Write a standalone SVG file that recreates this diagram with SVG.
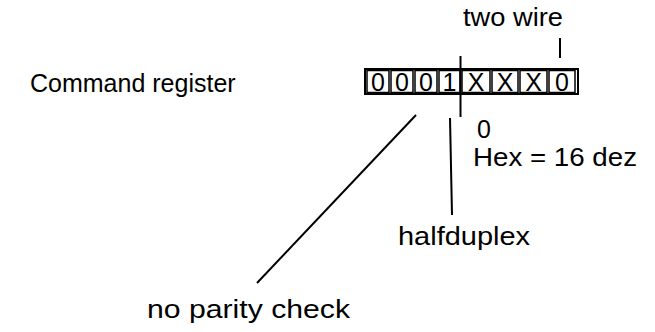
<svg xmlns="http://www.w3.org/2000/svg" width="655" height="332" viewBox="0 0 655 332">
<style>
text{font-family:"Liberation Sans",Arial,sans-serif;font-size:25px;fill:#000}
.reg{font-size:27px}
.ln{stroke:#000;stroke-width:2;fill:none}
.frame{stroke:#000;stroke-width:2;fill:#fff}
.cell{stroke:#000;stroke-width:1.5;fill:none}
</style>
<rect width="655" height="332" fill="#fff"/>
<g id="label-command"><text x="30" y="92" font-size="22">Command register</text></g>
<g id="register">
<rect class="frame" x="365" y="69" width="213" height="25"/>
<rect class="cell" x="367" y="70.5" width="22" height="22"/>
<rect class="cell" x="391" y="70.5" width="22" height="22"/>
<rect class="cell" x="415" y="70.5" width="22" height="22"/>
<rect class="cell" x="439" y="70.5" width="21" height="22"/>
<rect class="cell" x="462" y="70.5" width="28" height="22"/>
<rect class="cell" x="492" y="70.5" width="26" height="22"/>
<rect class="cell" x="520" y="70.5" width="27" height="22"/>
<rect class="cell" x="549" y="70.5" width="26" height="22"/>
<g class="reg" text-anchor="middle">
<text x="378" y="91">0</text><text x="402" y="91">0</text><text x="426" y="91">0</text><text x="449.5" y="91">1</text><text x="476" y="91">X</text><text x="505" y="91">X</text><text x="533.5" y="91">X</text><text x="562" y="91">0</text>
</g>
</g>
<g id="label-twowire"><text x="463" y="26" font-size="24" textLength="100" lengthAdjust="spacingAndGlyphs">two wire</text></g>
<g id="label-hex"><text x="477" y="138">0</text><text x="473" y="166" textLength="164" lengthAdjust="spacingAndGlyphs">Hex = 16 dez</text></g>
<g id="label-halfduplex"><text x="398" y="245" textLength="132" lengthAdjust="spacingAndGlyphs">halfduplex</text></g>
<g id="label-parity"><text x="147" y="318" textLength="203" lengthAdjust="spacingAndGlyphs">no parity check</text></g>
<g id="connectors" class="ln">
<line x1="560" y1="38" x2="560" y2="58"/>
<line x1="460.5" y1="56" x2="460.5" y2="117"/>
<line x1="450" y1="118" x2="452" y2="215"/>
<line x1="416" y1="115" x2="257" y2="283"/>
</g>
</svg>
